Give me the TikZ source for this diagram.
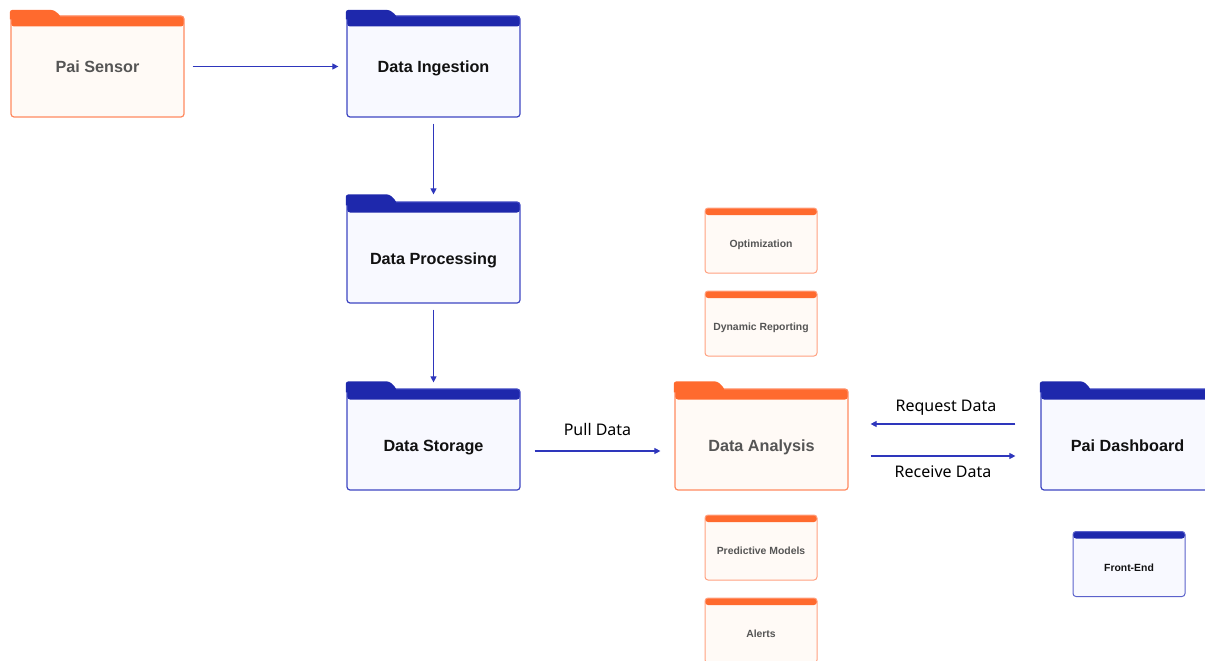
\documentclass[tikz,border=0pt]{standalone}
\usepackage{fontspec}
\setmainfont{Noto Sans}
\newfontfamily\boxfont{Liberation Sans}
\usetikzlibrary{arrows.meta}
\definecolor{ohdr}{RGB}{255,106,46}
\definecolor{obrd}{RGB}{255,138,96}
\definecolor{ofill}{RGB}{255,250,246}
\definecolor{otxt}{RGB}{85,85,85}
\definecolor{bhdr}{RGB}{30,40,172}
\definecolor{bbrd}{RGB}{62,70,194}
\definecolor{bfill}{RGB}{248,249,255}
\definecolor{btxt}{RGB}{17,17,17}
\definecolor{arrc}{RGB}{46,54,188}
\tikzset{
  big/.style={rectangle, rounded corners=3pt, minimum width=173pt, minimum height=101pt,
    inner sep=0pt, line width=1.2pt, font=\boxfont\fontsize{16.2}{19}\selectfont\bfseries,
    text height=11.6pt, text depth=0pt},
  lowtext/.style={text height=24.6pt},
  small/.style={rectangle, rounded corners=3pt, minimum width=112pt, minimum height=65pt,
    inner sep=0pt, line width=1pt, font=\boxfont\fontsize{10.4}{12}\selectfont\bfseries,
    text height=14.5pt, text depth=0pt},
  obig/.style={big, draw=obrd, fill=ofill, text=otxt,
    path picture={\fill[ohdr] (path picture bounding box.north west) rectangle ([yshift=-10.5pt]path picture bounding box.north east);}},
  bbig/.style={big, draw=bbrd, fill=bfill, text=btxt,
    path picture={\fill[bhdr] (path picture bounding box.north west) rectangle ([yshift=-10.5pt]path picture bounding box.north east);}},
  osmall/.style={small, draw=obrd!80!white, fill=ofill, text=otxt,
    path picture={\fill[ohdr] (path picture bounding box.north west) rectangle ([yshift=-7pt]path picture bounding box.north east);}},
  bsmall/.style={small, draw=bbrd!85!white, fill=bfill, text=btxt,
    path picture={\fill[bhdr] (path picture bounding box.north west) rectangle ([yshift=-7pt]path picture bounding box.north east);}},
  arr/.style={draw=arrc, line width=1.1pt, -{Triangle[length=6pt,width=6pt]}},
  lbl/.style={font=\fontsize{16}{18}\selectfont, text=black, inner sep=0pt}
}
\newcommand\foldertab[3]{\fill[#2, rounded corners=2.5pt] ([xshift=-0.6pt,yshift=-4pt]#1.north west) |- ([xshift=43pt,yshift=#3]#1.north west) -- ([xshift=50pt]#1.north west) [sharp corners] -- ([xshift=50pt,yshift=-4pt]#1.north west) -- cycle;}
\begin{document}
\begin{tikzpicture}[x=1pt,y=-1pt]
\useasboundingbox (0,0) rectangle (1205,661);
\clip (0,0) rectangle (1205,661);
% big folders
\node[obig] (sensor) at (97.5,66.5) {Pai Sensor};
\node[bbig] (ingest) at (433.5,66.5) {Data Ingestion};
\node[bbig, lowtext] (proc) at (433.5,252.5) {Data Processing};
\node[bbig, lowtext] (stor) at (433.5,439.5) {Data Storage};
\node[obig, lowtext] (ana) at (761.5,439.5) {Data Analysis};
\node[bbig, lowtext] (dash) at (1127.5,439.5) {Pai Dashboard};
\foldertab{sensor}{ohdr}{5.5pt}
\foldertab{ingest}{bhdr}{5.5pt}
\foldertab{proc}{bhdr}{7pt}
\foldertab{stor}{bhdr}{7pt}
\foldertab{ana}{ohdr}{7pt}
\foldertab{dash}{bhdr}{7pt}
% small boxes
\node[osmall] (opt) at (761,240.5) {Optimization};
\node[osmall] (dyn) at (761,323.5) {Dynamic Reporting};
\node[osmall] (pred) at (761,547.5) {Predictive Models};
\node[osmall] (alert) at (761,630.5) {Alerts};
\node[bsmall] (front) at (1129,564) {Front-End};
% connectors
\draw[arr, shorten <=8pt, shorten >=8pt] (sensor) -- (ingest);
\draw[arr, shorten <=6pt] (ingest.south) -- ([yshift=7pt]proc.north);
\draw[arr, shorten <=6pt] (proc.south) -- ([yshift=6pt]stor.north);
\draw[arr, shorten <=14pt, shorten >=14pt] ([yshift=-11.5pt]stor.east) -- node[lbl, midway, yshift=22pt] (pull) {Pull Data} ([yshift=-11.5pt]ana.west);
\draw[arr, shorten <=25pt, shorten >=22pt] ([yshift=15.5pt]dash.west) -- node[lbl, midway, yshift=16pt, xshift=1.5pt] (req) {Request Data} ([yshift=15.5pt]ana.east);
\draw[arr, shorten <=22pt, shorten >=25pt] ([yshift=-16.5pt]ana.east) -- node[lbl, midway, yshift=-16pt, xshift=-1.5pt] (rec) {Receive Data} ([yshift=-16.5pt]dash.west);
\end{tikzpicture}
\end{document}
